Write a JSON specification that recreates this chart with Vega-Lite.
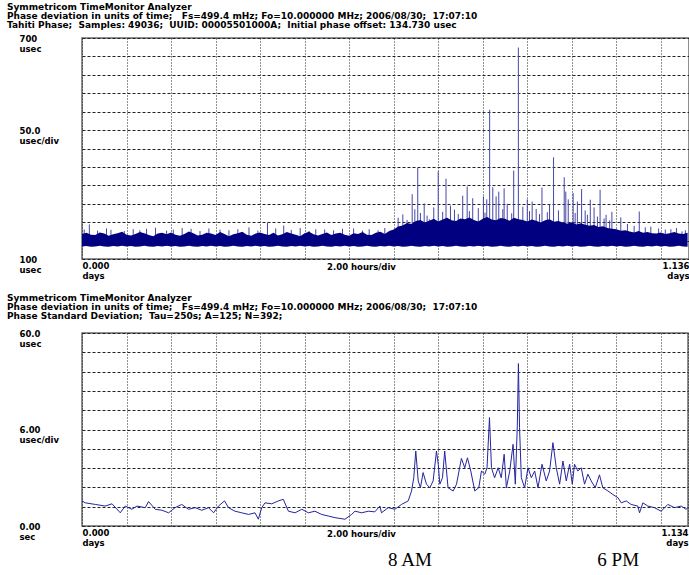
{
  "$schema": "https://vega.github.io/schema/vega-lite/v6.json",
  "background": "white",
  "padding": {"left": 6, "top": 2, "right": 0, "bottom": 0},
  "spacing": 3,
  "datasets": {
    "band": [
      {"h":0,"lo":134,"hi":168},{"h":0.2,"lo":135,"hi":171},{"h":0.4,"lo":133,"hi":166},{"h":0.6,"lo":134,"hi":165},{"h":0.8,"lo":136,"hi":172},
      {"h":1,"lo":134,"hi":169},{"h":1.2,"lo":133,"hi":163},{"h":1.4,"lo":135,"hi":167},{"h":1.6,"lo":134,"hi":170},{"h":1.8,"lo":136,"hi":174},
      {"h":2,"lo":134,"hi":166},{"h":2.2,"lo":135,"hi":164},{"h":2.4,"lo":133,"hi":168},{"h":2.6,"lo":134,"hi":173},{"h":2.8,"lo":136,"hi":170},
      {"h":3,"lo":134,"hi":165},{"h":3.2,"lo":133,"hi":162},{"h":3.4,"lo":135,"hi":169},{"h":3.6,"lo":134,"hi":171},{"h":3.8,"lo":136,"hi":167},
      {"h":4,"lo":134,"hi":172},{"h":4.2,"lo":135,"hi":166},{"h":4.4,"lo":133,"hi":163},{"h":4.6,"lo":134,"hi":168},{"h":4.8,"lo":136,"hi":175},
      {"h":5,"lo":134,"hi":170},{"h":5.2,"lo":133,"hi":164},{"h":5.4,"lo":135,"hi":166},{"h":5.6,"lo":134,"hi":171},{"h":5.8,"lo":136,"hi":169},
      {"h":6,"lo":134,"hi":165},{"h":6.2,"lo":135,"hi":173},{"h":6.4,"lo":133,"hi":168},{"h":6.6,"lo":134,"hi":162},{"h":6.8,"lo":136,"hi":167},
      {"h":7,"lo":134,"hi":170},{"h":7.2,"lo":133,"hi":174},{"h":7.4,"lo":135,"hi":166},{"h":7.6,"lo":134,"hi":163},{"h":7.8,"lo":136,"hi":169},
      {"h":8,"lo":134,"hi":172},{"h":8.2,"lo":135,"hi":168},{"h":8.4,"lo":133,"hi":165},{"h":8.6,"lo":134,"hi":171},{"h":8.8,"lo":136,"hi":164},
      {"h":9,"lo":134,"hi":167},{"h":9.2,"lo":133,"hi":173},{"h":9.4,"lo":135,"hi":169},{"h":9.6,"lo":134,"hi":166},{"h":9.8,"lo":136,"hi":162},
      {"h":10,"lo":134,"hi":170},{"h":10.2,"lo":135,"hi":174},{"h":10.4,"lo":133,"hi":167},{"h":10.6,"lo":134,"hi":164},{"h":10.8,"lo":136,"hi":168},
      {"h":11,"lo":134,"hi":172},{"h":11.2,"lo":133,"hi":165},{"h":11.4,"lo":135,"hi":169},{"h":11.6,"lo":134,"hi":171},{"h":11.8,"lo":136,"hi":166},
      {"h":12,"lo":134,"hi":163},{"h":12.2,"lo":135,"hi":170},{"h":12.4,"lo":133,"hi":168},{"h":12.6,"lo":134,"hi":173},{"h":12.8,"lo":136,"hi":166},
      {"h":13,"lo":134,"hi":165},{"h":13.2,"lo":133,"hi":171},{"h":13.4,"lo":135,"hi":174},{"h":13.6,"lo":134,"hi":168},{"h":13.8,"lo":136,"hi":176},
      {"h":14,"lo":134,"hi":180},{"h":14.2,"lo":135,"hi":188},{"h":14.4,"lo":133,"hi":191},{"h":14.6,"lo":134,"hi":198},{"h":14.8,"lo":136,"hi":195},
      {"h":15,"lo":134,"hi":203},{"h":15.2,"lo":133,"hi":206},{"h":15.4,"lo":135,"hi":199},{"h":15.6,"lo":134,"hi":204},{"h":15.8,"lo":136,"hi":209},
      {"h":16,"lo":134,"hi":202},{"h":16.2,"lo":135,"hi":207},{"h":16.4,"lo":133,"hi":212},{"h":16.6,"lo":134,"hi":205},{"h":16.8,"lo":136,"hi":203},
      {"h":17,"lo":134,"hi":210},{"h":17.2,"lo":133,"hi":208},{"h":17.4,"lo":135,"hi":213},{"h":17.6,"lo":134,"hi":206},{"h":17.8,"lo":136,"hi":202},
      {"h":18,"lo":134,"hi":209},{"h":18.2,"lo":135,"hi":214},{"h":18.4,"lo":133,"hi":207},{"h":18.6,"lo":134,"hi":205},{"h":18.8,"lo":136,"hi":211},
      {"h":19,"lo":134,"hi":209},{"h":19.2,"lo":133,"hi":204},{"h":19.4,"lo":135,"hi":212},{"h":19.6,"lo":134,"hi":208},{"h":19.8,"lo":136,"hi":206},
      {"h":20,"lo":134,"hi":202},{"h":20.2,"lo":135,"hi":207},{"h":20.4,"lo":133,"hi":204},{"h":20.6,"lo":134,"hi":199},{"h":20.8,"lo":136,"hi":205},
      {"h":21,"lo":134,"hi":208},{"h":21.2,"lo":133,"hi":201},{"h":21.4,"lo":135,"hi":203},{"h":21.6,"lo":134,"hi":199},{"h":21.8,"lo":136,"hi":196},
      {"h":22,"lo":134,"hi":200},{"h":22.2,"lo":135,"hi":194},{"h":22.4,"lo":133,"hi":197},{"h":22.6,"lo":134,"hi":193},{"h":22.8,"lo":136,"hi":190},
      {"h":23,"lo":134,"hi":192},{"h":23.2,"lo":133,"hi":187},{"h":23.4,"lo":135,"hi":189},{"h":23.6,"lo":134,"hi":184},{"h":23.8,"lo":136,"hi":182},
      {"h":24,"lo":134,"hi":181},{"h":24.2,"lo":135,"hi":177},{"h":24.4,"lo":133,"hi":178},{"h":24.6,"lo":134,"hi":175},{"h":24.8,"lo":136,"hi":172},
      {"h":25,"lo":134,"hi":176},{"h":25.2,"lo":133,"hi":171},{"h":25.4,"lo":135,"hi":173},{"h":25.6,"lo":134,"hi":170},{"h":25.8,"lo":136,"hi":169},
      {"h":26,"lo":134,"hi":172},{"h":26.2,"lo":135,"hi":168},{"h":26.4,"lo":133,"hi":170},{"h":26.6,"lo":134,"hi":173},{"h":26.8,"lo":136,"hi":169},
      {"h":27,"lo":134,"hi":168},{"h":27.2,"lo":133,"hi":171}
    ],
    "spikes": [
      {"h":0.33,"hi":194},{"h":1.3,"hi":179},{"h":2.9,"hi":182},{"h":4.5,"hi":184},{"h":6.2,"hi":180},{"h":8.33,"hi":199},{"h":9.06,"hi":191},{"h":10.5,"hi":181},{"h":12.2,"hi":183},{"h":13.3,"hi":178},
      {"h":0.1,"hi":180},{"h":0.7,"hi":177},{"h":1.1,"hi":183},{"h":1.9,"hi":176},{"h":2.3,"hi":181},{"h":2.6,"hi":178},{"h":3.3,"hi":185},{"h":3.8,"hi":177},{"h":4.1,"hi":180},{"h":4.9,"hi":182},
      {"h":5.3,"hi":176},{"h":5.7,"hi":183},{"h":6.6,"hi":178},{"h":7.0,"hi":181},{"h":7.5,"hi":186},{"h":7.9,"hi":177},{"h":8.7,"hi":183},{"h":9.4,"hi":179},{"h":9.8,"hi":184},{"h":10.2,"hi":176},
      {"h":10.9,"hi":180},{"h":11.3,"hi":178},{"h":11.7,"hi":182},{"h":12.6,"hi":177},{"h":12.9,"hi":181},{"h":13.6,"hi":184},
      {"h":14.2,"hi":212},{"h":14.41,"hi":221},{"h":14.6,"hi":206},{"h":14.83,"hi":276},{"h":14.95,"hi":235},{"h":15.08,"hi":347},{"h":15.2,"hi":225},{"h":15.37,"hi":251},{"h":15.5,"hi":218},{"h":15.6,"hi":208},
      {"h":15.8,"hi":240},{"h":16.0,"hi":338},{"h":16.2,"hi":228},{"h":16.35,"hi":318},{"h":16.55,"hi":245},{"h":16.73,"hi":234},{"h":16.9,"hi":222},{"h":17.1,"hi":272},{"h":17.3,"hi":297},{"h":17.4,"hi":230},
      {"h":17.55,"hi":265},{"h":17.8,"hi":238},{"h":18.03,"hi":270},{"h":18.1,"hi":226},{"h":18.18,"hi":262},{"h":18.31,"hi":505},{"h":18.45,"hi":295},{"h":18.6,"hi":270},{"h":18.72,"hi":283},{"h":18.9,"hi":235},
      {"h":18.96,"hi":292},{"h":19.1,"hi":250},{"h":19.3,"hi":224},{"h":19.39,"hi":340},{"h":19.6,"hi":674},{"h":19.8,"hi":242},{"h":20.0,"hi":262},{"h":20.1,"hi":230},{"h":20.22,"hi":256},{"h":20.4,"hi":236},
      {"h":20.55,"hi":222},{"h":20.66,"hi":294},{"h":20.9,"hi":227},{"h":21.0,"hi":248},{"h":21.18,"hi":376},{"h":21.4,"hi":232},{"h":21.66,"hi":322},{"h":21.73,"hi":283},{"h":21.84,"hi":262},{"h":22.06,"hi":279},
      {"h":22.15,"hi":225},{"h":22.25,"hi":256},{"h":22.44,"hi":290},{"h":22.6,"hi":232},{"h":22.7,"hi":220},{"h":22.83,"hi":261},{"h":23.0,"hi":240},{"h":23.15,"hi":215},{"h":23.27,"hi":288},{"h":23.45,"hi":210},
      {"h":23.54,"hi":220},{"h":23.7,"hi":205},{"h":23.8,"hi":228},{"h":24.2,"hi":213},{"h":24.5,"hi":195},{"h":24.8,"hi":190},{"h":25.03,"hi":229},{"h":25.3,"hi":186},{"h":25.55,"hi":188},{"h":25.9,"hi":183},
      {"h":26.2,"hi":180},{"h":26.45,"hi":181},{"h":26.7,"hi":184},{"h":26.95,"hi":175},{"h":27.1,"hi":178}
    ],
    "stdev": [
      {"h":0,"sd":7.8},{"h":0.15,"sd":7.2},{"h":0.6,"sd":6.7},{"h":1.04,"sd":6.2},{"h":1.35,"sd":6.9},{"h":1.72,"sd":4.1},{"h":1.94,"sd":6.2},{"h":2.24,"sd":5.2},{"h":2.47,"sd":6.2},{"h":2.84,"sd":5.7},
      {"h":2.99,"sd":7.6},{"h":3.29,"sd":5.2},{"h":3.59,"sd":4.9},{"h":3.89,"sd":4.1},{"h":4.18,"sd":5.7},{"h":4.48,"sd":6.7},{"h":4.78,"sd":5.2},{"h":5.08,"sd":5.7},{"h":5.38,"sd":4.9},{"h":5.68,"sd":5.7},
      {"h":5.91,"sd":4.1},{"h":6.13,"sd":6.2},{"h":6.4,"sd":7.8},{"h":6.58,"sd":5.7},{"h":6.87,"sd":4.6},{"h":7.17,"sd":4.1},{"h":7.48,"sd":3.6},{"h":7.77,"sd":4.1},{"h":7.92,"sd":2.1},{"h":8.07,"sd":5.7},
      {"h":8.22,"sd":7.2},{"h":8.52,"sd":6.9},{"h":8.82,"sd":7.8},{"h":9.04,"sd":8.3},{"h":9.27,"sd":4.6},{"h":9.57,"sd":4.1},{"h":9.87,"sd":5.2},{"h":10.17,"sd":4.1},{"h":10.46,"sd":4.6},{"h":10.76,"sd":3.6},
      {"h":11.06,"sd":3.1},{"h":11.36,"sd":2.6},{"h":11.81,"sd":2.1},{"h":12.11,"sd":3.6},{"h":12.26,"sd":4.6},{"h":12.56,"sd":4.1},{"h":12.86,"sd":4.6},{"h":13.15,"sd":4.4},{"h":13.38,"sd":6.2},{"h":13.45,"sd":4.1},
      {"h":13.75,"sd":5.7},{"h":14.05,"sd":5.2},{"h":14.35,"sd":6.7},{"h":14.65,"sd":7.8},{"h":14.8,"sd":10.9},{"h":14.9,"sd":15},{"h":14.99,"sd":23.3},{"h":15.1,"sd":14},{"h":15.2,"sd":11.9},{"h":15.32,"sd":16.6},
      {"h":15.47,"sd":13},{"h":15.62,"sd":11.9},{"h":15.77,"sd":14},{"h":15.92,"sd":23.3},{"h":16.0,"sd":19.2},{"h":16.07,"sd":13},{"h":16.19,"sd":15},{"h":16.29,"sd":23.3},{"h":16.44,"sd":11.9},{"h":16.67,"sd":10.9},
      {"h":16.82,"sd":13},{"h":17.04,"sd":21},{"h":17.19,"sd":18.1},{"h":17.31,"sd":21.2},{"h":17.46,"sd":17.1},{"h":17.64,"sd":10.9},{"h":17.82,"sd":11.9},{"h":17.94,"sd":17.1},{"h":18.09,"sd":16.1},{"h":18.19,"sd":18.1},
      {"h":18.3,"sd":33.7},{"h":18.39,"sd":18.1},{"h":18.53,"sd":15},{"h":18.69,"sd":18.1},{"h":18.83,"sd":15},{"h":18.96,"sd":22.3},{"h":19.06,"sd":11.9},{"h":19.21,"sd":17.1},{"h":19.36,"sd":25.4},{"h":19.46,"sd":13},
      {"h":19.55,"sd":31.1},{"h":19.6,"sd":50.5},{"h":19.65,"sd":30.6},{"h":19.73,"sd":15},{"h":19.88,"sd":11.9},{"h":20.03,"sd":18.1},{"h":20.18,"sd":15},{"h":20.33,"sd":17.1},{"h":20.48,"sd":11.9},{"h":20.66,"sd":19.2},
      {"h":20.85,"sd":14},{"h":21.0,"sd":17.1},{"h":21.15,"sd":25.9},{"h":21.3,"sd":18.1},{"h":21.45,"sd":13},{"h":21.6,"sd":20.2},{"h":21.75,"sd":14},{"h":21.9,"sd":19.2},{"h":22.02,"sd":13},{"h":22.12,"sd":19.2},
      {"h":22.27,"sd":17.1},{"h":22.42,"sd":18.1},{"h":22.57,"sd":13},{"h":22.72,"sd":16.1},{"h":22.87,"sd":14},{"h":23.05,"sd":11.9},{"h":23.24,"sd":15.9},{"h":23.39,"sd":11.9},{"h":23.62,"sd":10.9},{"h":23.84,"sd":9.8},
      {"h":24.07,"sd":8.8},{"h":24.22,"sd":7.2},{"h":24.44,"sd":7.8},{"h":24.66,"sd":6.7},{"h":24.96,"sd":6.2},{"h":25.04,"sd":4.1},{"h":25.19,"sd":7.2},{"h":25.41,"sd":6.2},{"h":25.71,"sd":5.7},{"h":26.01,"sd":4.6},
      {"h":26.31,"sd":6.7},{"h":26.61,"sd":5.7},{"h":26.91,"sd":6.2},{"h":27.13,"sd":5.2},{"h":27.2,"sd":5.6}
    ],
    "marks": [
      {"h":14.73,"label":"8 AM"},
      {"h":24.08,"label":"6 PM"}
    ]
  },
  "vconcat": [
    {
      "spacing": 12,
      "vconcat": [
        {
          "title": {
            "text": [
              "Symmetricom TimeMonitor Analyzer",
              "Phase deviation in units of time;\u00a0\u00a0 Fs=499.4 mHz; Fo=10.000000 MHz; 2006/08/30;\u00a0 17:07:10",
              "Tahiti Phase;\u00a0 Samples: 49036;\u00a0 UUID: 00005501000A;\u00a0 Initial phase offset: 134.730 usec"
            ],
            "offset": 4
          },
          "width": 607,
          "height": 221,
          "encoding": {
            "x": {
              "field": "h", "type": "quantitative",
              "scale": {"domain": [0, 27.264], "nice": false, "zero": false},
              "axis": {
                "values": [0,2,4,6,8,10,12,14,16,18,20,22,24,26,27.264],
                "labelExpr": "datum.value == 0 ? ['0.000','days'] : datum.value > 27 ? ['1.136','days'] : ''",
                "title": "2.00 hours/div",
                "titleX": 279, "titleY": 3, "titleBaseline": "top", "titleAlign": "center", "titleAnchor": "middle"
              }
            },
            "y": {
              "field": "hi", "type": "quantitative",
              "scale": {"domain": [100, 700], "nice": false, "zero": false},
              "axis": {
                "values": [100,150,200,250,300,350,400,450,500,550,600,650,700],
                "labelExpr": "datum.value == 700 ? ['700','usec'] : datum.value == 450 ? ['50.0','usec/div'] : datum.value == 100 ? ['100','usec'] : ''",
                "title": null
              }
            }
          },
          "layer": [
            {
              "data": {"name": "spikes"},
              "mark": {"type": "rule", "color": "#4646a8", "strokeWidth": 1},
              "encoding": {"y2": {"datum": 136}}
            },
            {
              "data": {"name": "band"},
              "mark": {"type": "area", "color": "#000080", "opacity": 1},
              "encoding": {"y2": {"field": "lo"}}
            }
          ]
        },
        {
          "title": {
            "text": [
              "Symmetricom TimeMonitor Analyzer",
              "Phase deviation in units of time;\u00a0\u00a0 Fs=499.4 mHz; Fo=10.000000 MHz; 2006/08/30;\u00a0 17:07:10",
              "Phase Standard Deviation;\u00a0 Tau=250s; A=125; N=392;"
            ],
            "offset": 8
          },
          "width": 606,
          "height": 193,
          "data": {"name": "stdev"},
          "mark": {"type": "line", "color": "#2424a0", "strokeWidth": 1},
          "encoding": {
            "x": {
              "field": "h", "type": "quantitative",
              "scale": {"domain": [0, 27.216], "nice": false, "zero": false},
              "axis": {
                "values": [0,2,4,6,8,10,12,14,16,18,20,22,24,26,27.216],
                "labelExpr": "datum.value == 0 ? ['0.000','days'] : datum.value > 27 ? ['1.134','days'] : ''",
                "title": "2.00 hours/div",
                "titleX": 279, "titleY": 3, "titleBaseline": "top", "titleAlign": "center", "titleAnchor": "middle"
              }
            },
            "y": {
              "field": "sd", "type": "quantitative",
              "scale": {"domain": [0, 60], "nice": false, "zero": false},
              "axis": {
                "values": [0,6,12,18,24,30,36,42,48,54,60],
                "labelExpr": "datum.value == 60 ? ['60.0','usec'] : datum.value == 30 ? ['6.00','usec/div'] : datum.value == 0 ? ['0.00','sec'] : ''",
                "title": null
              }
            }
          }
        }
      ]
    },
    {
      "data": {"name": "marks"},
      "width": 606,
      "height": 2,
      "view": {"stroke": null},
      "mark": {"type": "text", "font": "Liberation Serif", "fontSize": 19, "baseline": "middle", "align": "center", "color": "black"},
      "encoding": {
        "x": {"field": "h", "type": "quantitative", "scale": {"domain": [0, 27.216], "nice": false, "zero": false}, "axis": null},
        "text": {"field": "label"}
      }
    }
  ],
  "config": {
    "view": {"stroke": "#6a6a6a", "strokeWidth": 1.5},
    "axis": {
      "labelFont": "DejaVu Sans", "labelFontWeight": "bold", "labelFontSize": 8.5, "labelColor": "black", "labelLineHeight": 10,
      "titleFont": "DejaVu Sans", "titleFontWeight": "bold", "titleFontSize": 8.5, "titleColor": "black",
      "ticks": false, "tickSize": 0, "domain": false, "labelOverlap": false,
      "grid": true, "gridColor": "#222222", "gridOpacity": 1, "gridWidth": 1
    },
    "axisX": {"gridDash": [1, 2], "labelFlush": true, "labelPadding": 2, "labelBaseline": "top"},
    "axisY": {"gridDash": [3, 2], "labelAlign": "left", "labelBaseline": "top", "labelPadding": 63, "labelOffset": -4},
    "title": {"font": "DejaVu Sans", "fontSize": 9, "fontWeight": "bold", "color": "black", "anchor": "start", "frame": "bounds", "lineHeight": 9, "dx": -12}
  }
}
